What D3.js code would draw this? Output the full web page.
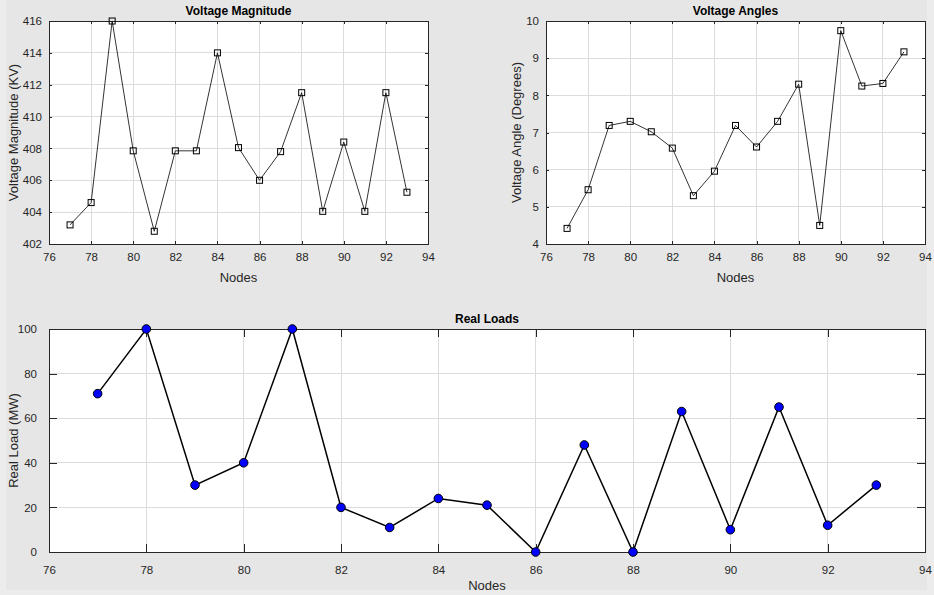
<!DOCTYPE html>
<html>
<head>
<meta charset="utf-8">
<script src="https://cdn.jsdelivr.net/npm/d3@7"></script>
<style>
  body { margin: 0; background: #ececec; }
  svg { display: block; font-family: "Liberation Sans", Arial, sans-serif; }
  .tick text { fill: #262626; font-size: 11.5px; }
</style>
</head>
<body>
<div id="chart"></div>
<script>
// data
let nodes = [77, 78, 79, 80, 81, 82, 83, 84, 85, 86, 87, 88, 89, 90, 91, 92, 93];
let voltMag = [403.2, 404.6, 416, 407.85, 402.8, 407.85, 407.85, 414, 408.05, 406, 407.8, 411.5, 404.05, 408.4, 404.05, 411.5, 405.25];
let voltAng = [4.42, 5.46, 7.19, 7.3, 7.02, 6.58, 5.3, 5.96, 7.19, 6.61, 7.3, 8.3, 4.5, 9.74, 8.25, 8.32, 9.17];
let realLoad = [71, 100, 30, 40, 100, 20, 11, 24, 21, 0, 48, 0, 63, 10, 65, 12, 30];
let xTicks = [76, 78, 80, 82, 84, 86, 88, 90, 92, 94];
let magTicks = [402, 404, 406, 408, 410, 412, 414, 416];
let angTicks = [4, 5, 6, 7, 8, 9, 10];
let loadTicks = [0, 20, 40, 60, 80, 100];

const W = 934, H = 595;
let svg = d3.select('#chart').append('svg').attr('width', W).attr('height', H);
svg.append('rect').attr('x', 6).attr('y', 0).attr('width', 921).attr('height', 590).attr('fill', '#e6e6e6');

function panel(opt) {
  let x = d3.scaleLinear().domain([76, 94]).range([opt.x0, opt.x1]);
  let y = d3.scaleLinear().domain(opt.yDomain).range([opt.y1, opt.y0]);
  let g = svg.append('g');

  g.append('rect')
    .attr('x', opt.x0).attr('y', opt.y0)
    .attr('width', opt.x1 - opt.x0).attr('height', opt.y1 - opt.y0)
    .attr('fill', '#fff');

  // grid
  g.selectAll('.vg').data(xTicks.slice(1, -1)).enter().append('line')
    .attr('x1', d => x(d)).attr('x2', d => x(d))
    .attr('y1', opt.y0).attr('y2', opt.y1)
    .attr('stroke', '#dcdcdc').attr('shape-rendering', 'crispEdges');
  g.selectAll('.hg').data(opt.yTicks.slice(1, -1)).enter().append('line')
    .attr('y1', d => y(d)).attr('y2', d => y(d))
    .attr('x1', opt.x0).attr('x2', opt.x1)
    .attr('stroke', '#dcdcdc').attr('shape-rendering', 'crispEdges');

  // axes, ticks inward on all four sides
  let tl = opt.tick;
  let fmt = d3.format('d');
  let ax = g.append('g').attr('transform', `translate(0,${opt.y1})`)
    .call(d3.axisBottom(x).tickValues(xTicks).tickFormat(fmt).tickSize(-tl).tickPadding(tl + 6).tickSizeOuter(0));
  let ay = g.append('g').attr('transform', `translate(${opt.x0},0)`)
    .call(d3.axisLeft(y).tickValues(opt.yTicks).tickFormat(fmt).tickSize(-tl).tickPadding(tl + 4).tickSizeOuter(0));
  let at = g.append('g').attr('transform', `translate(0,${opt.y0})`)
    .call(d3.axisTop(x).tickValues(xTicks).tickSize(-tl).tickFormat('').tickSizeOuter(0));
  let ar = g.append('g').attr('transform', `translate(${opt.x1},0)`)
    .call(d3.axisRight(y).tickValues(opt.yTicks).tickSize(-tl).tickFormat('').tickSizeOuter(0));
  [ax, ay, at, ar].forEach(a => {
    a.selectAll('path').attr('stroke', '#262626').attr('shape-rendering', 'crispEdges');
    a.selectAll('line').attr('stroke', '#262626').attr('shape-rendering', 'crispEdges');
  });

  // line + markers
  let pts = nodes.map((n, i) => [n, opt.values[i]]);
  g.append('path').datum(pts)
    .attr('d', d3.line().x(d => x(d[0])).y(d => y(d[1])))
    .attr('fill', 'none').attr('stroke', '#000').attr('stroke-width', opt.lw);

  if (opt.marker === 'square') {
    g.selectAll('.m').data(pts).enter().append('rect')
      .attr('x', d => x(d[0]) - 3).attr('y', d => y(d[1]) - 3)
      .attr('width', 6).attr('height', 6)
      .attr('fill', 'none').attr('stroke', '#000').attr('stroke-width', 1);
  } else {
    g.selectAll('.m').data(pts).enter().append('circle')
      .attr('cx', d => x(d[0])).attr('cy', d => y(d[1])).attr('r', 4.3)
      .attr('fill', '#0000ff').attr('stroke', '#000').attr('stroke-width', 1);
  }

  g.append('text').text(opt.title)
    .attr('x', (opt.x0 + opt.x1) / 2).attr('y', opt.y0 - 6)
    .attr('text-anchor', 'middle').attr('font-weight', 'bold').attr('font-size', 12).attr('fill', '#000');
  g.append('text').text('Nodes')
    .attr('x', (opt.x0 + opt.x1) / 2).attr('y', opt.y1 + 38)
    .attr('text-anchor', 'middle').attr('font-size', 13).attr('fill', '#262626');
  g.append('text').text(opt.ylabel)
    .attr('transform', `translate(${opt.ylx},${(opt.y0 + opt.y1) / 2}) rotate(-90)`)
    .attr('text-anchor', 'middle').attr('font-size', 13).attr('fill', '#262626');
}

panel({ x0: 49, x1: 428, y0: 21, y1: 244, yDomain: [402, 416], yTicks: magTicks, values: voltMag,
  tick: 3, lw: 0.8, marker: 'square', title: 'Voltage Magnitude', ylabel: 'Voltage Magnitude (KV)', ylx: 18 });
panel({ x0: 546, x1: 925, y0: 21, y1: 244, yDomain: [4, 10], yTicks: angTicks, values: voltAng,
  tick: 3, lw: 0.8, marker: 'square', title: 'Voltage Angles', ylabel: 'Voltage Angle (Degrees)', ylx: 521 });
panel({ x0: 49, x1: 925, y0: 329, y1: 552, yDomain: [0, 100], yTicks: loadTicks, values: realLoad,
  tick: 8, lw: 1.5, marker: 'circle', title: 'Real Loads', ylabel: 'Real Load (MW)', ylx: 18 });
</script>
</body>
</html>
